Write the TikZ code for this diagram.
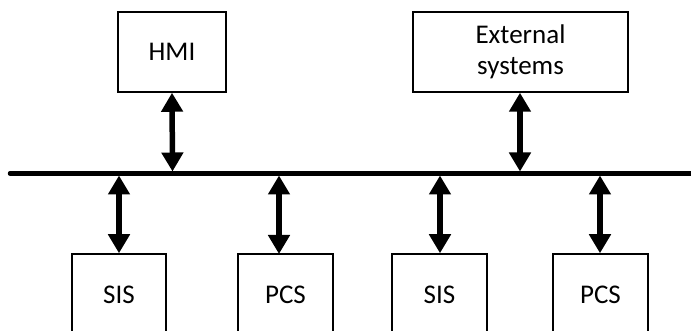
\documentclass[tikz,border=0pt]{standalone}
\usepackage{fontspec}
\setmainfont{Carlito}
\usetikzlibrary{arrows.meta}
\begin{document}
\begin{tikzpicture}[x=1pt,y=-1pt,
  box/.style={draw=black,line width=1.5pt,rectangle,inner sep=0pt,
    font=\fontsize{27}{31}\selectfont,align=center},
  link/.style={line width=5.5pt,{Triangle[width=21pt,length=19pt]}-{Triangle[width=21pt,length=19pt]}},
  busline/.style={line width=4.5pt}]
\useasboundingbox (0,0) rectangle (691,331);
\clip (0,0) rectangle (691,331);
\node[box,minimum width=108pt,minimum height=80pt] (hmi) at (172,52) {HMI};
\node[box,minimum width=215pt,minimum height=80pt] (ext) at (520.5,52) {External\\systems};
\node[box,minimum width=94pt,minimum height=82pt] (sis1) at (119,295) {SIS};
\node[box,minimum width=95pt,minimum height=82pt] (pcs1) at (285.5,295) {PCS};
\node[box,minimum width=95pt,minimum height=82pt] (sis2) at (439.5,295) {SIS};
\node[box,minimum width=95pt,minimum height=82pt] (pcs2) at (600.5,295) {PCS};
\coordinate (bl) at (10,173.5);
\coordinate (br) at (700,173.5);
\draw[busline,line cap=round] (bl) -- (br);
\coordinate (bhmi) at (172.5,171.5);
\coordinate (bext) at (520,171.5);
\coordinate (b1) at (119,175.5);
\coordinate (b2) at (279,175.5);
\coordinate (b3) at (440,175.5);
\coordinate (b4) at (600,175.5);
\coordinate (t2) at (279,254);
\draw[link] (hmi.south) -- (bhmi);
\draw[link] (ext.south -| bext) -- (bext);
\draw[link] (b1) -- (sis1.north);
\draw[link] (b2) -- (t2);
\draw[link] (b3) -- (b3 |- sis2.north);
\draw[link] (b4) -- (b4 |- pcs2.north);
\end{tikzpicture}
\end{document}
